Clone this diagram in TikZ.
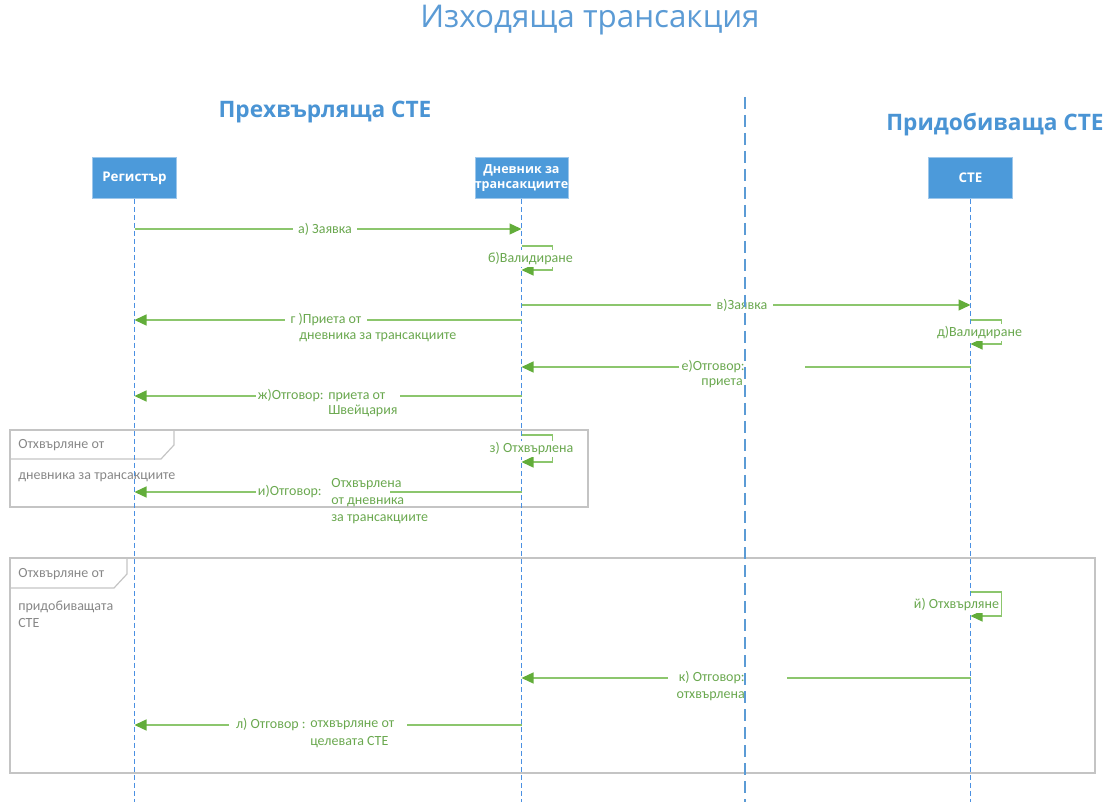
\documentclass[tikz,border=0pt]{standalone}
\usepackage{fontspec}
\setmainfont{Carlito}
\newfontfamily\headfont{Open Sans}
\usetikzlibrary{arrows.meta,positioning}
\definecolor{titleblue}{HTML}{5B9BD5}
\definecolor{headblue}{HTML}{4A94D4}
\definecolor{boxblue}{HTML}{4C9ADA}
\definecolor{lifeblue}{HTML}{4A90E2}
\definecolor{msggreen}{HTML}{8CC66D}
\definecolor{tipgreen}{HTML}{62AD3A}
\definecolor{lblgreen}{HTML}{6AA84F}
\definecolor{framegray}{HTML}{C4C4C4}
\definecolor{fgray}{HTML}{878787}
\tikzset{
  titletxt/.style={text=titleblue,font=\headfont\fontsize{23.5}{28}\selectfont},
  headtxt/.style={text=headblue,font=\headfont\bfseries\fontsize{17}{20}\selectfont},
  lifebox/.style={fill=boxblue,draw=boxblue!55!white,text=white,font=\headfont\bfseries\fontsize{10}{11.5}\selectfont,
    minimum width=63pt,minimum height=31pt,inner sep=0pt,align=center},
  lifeline/.style={draw=lifeblue,line width=1.1pt,dash pattern=on 3.75pt off 2.25pt},
  divider/.style={draw=titleblue,line width=1.9pt,dash pattern=on 9pt off 4.5pt},
  msgline/.style={draw=msggreen,line width=1pt},
  msg/.style={msgline,-{Triangle[length=9pt,width=8.25pt,color=tipgreen]}},
  lbl/.style={text=lblgreen,font=\fontsize{10.5}{12.5}\selectfont,inner sep=1.5pt},
  onlbl/.style={lbl,fill=white},
  fragbox/.style={draw=framegray,line width=0.9pt},
  fragtxt/.style={text=fgray,font=\fontsize{10.5}{12.75}\selectfont,anchor=west,inner sep=0pt,align=left},
}
\begin{document}
\begin{tikzpicture}[x=0.75pt,y=-0.75pt]
\useasboundingbox (0,0) rectangle (1108,802);
% titles
\node[titletxt] (title) at (590,20) {Изходяща трансакция};
\node[headtxt] (hsend) at (325,112) {Прехвърляща СТЕ};
\node[headtxt] (hrecv) at (995,125) {Придобиваща СТЕ};
% fragments
\draw[fragbox] (10,430) rectangle (588,507);
\draw[fragbox] (10,459) -- (161,459) -- (174,445) -- (174,430);
\node[fragtxt] (f1head) at (18,445) {Отхвърляне от};
\node[fragtxt] (f1cond) at (18,477) {дневника за трансакциите};
\draw[fragbox] (10,558) rectangle (1095,773);
\draw[fragbox] (10,588) -- (114,588) -- (127,574) -- (127,558);
\node[fragtxt] (f2head) at (18,574) {Отхвърляне от};
\node[fragtxt] (f2cond) at (18,614.5) {придобиващата\\СТЕ};
% lifelines
\node[lifebox] (reg) at (134.5,178) {Регистър};
\node[lifebox,font=\headfont\bfseries\fontsize{9.4}{11.5}\selectfont] (trn) at (521.5,178) {Дневник за\\трансакциите};
\node[lifebox] (ste) at (970.5,178) {СТЕ};
\coordinate (bot) at (0,802);
\foreach \lf in {reg,trn,ste}{\draw[lifeline] (\lf.south) -- (\lf.south |- bot);}
% a) request
\draw[msg] (reg |- 0,229) -- (trn |- 0,229);
\node[onlbl,inner xsep=4pt] (la) at (325,229) {а) Заявка};
% c) request to the acquiring side
\draw[msg] (trn |- 0,305) -- (ste |- 0,305);
\node[onlbl,inner xsep=4pt] (lc) at (742,305) {в)Заявка};
% g) accepted
\draw[msg] (trn |- 0,320) -- (reg |- 0,320);
\node[onlbl,anchor=west,inner xsep=4pt] (lg) at (285,320) {г )Приета от};
\node[lbl,anchor=west] (lg2) at (297,337) {дневника за трансакциите};
% e) answer
\coordinate (eR) at (805,367);
\node[lbl,anchor=east] (le) at (747,367) {е)Отговор:};
\node[lbl,anchor=east,inner ysep=0pt] (le2) at (745,383) {приета};
\draw[msgline] (ste |- eR) -- (eR);
\draw[msg] (le.west) -- (trn |- le.west);
% zh) answer
\draw[msg] (trn |- 0,396) -- (reg |- 0,396);
\node[onlbl,anchor=east] (lzh) at (326,396) {ж)Отговор:};
\node[onlbl,anchor=north west,align=left,font=\fontsize{10.5}{11.5}\selectfont] (lzh2) at ([yshift=-2.3pt]lzh.north east) {приета от\\Швейцария};
% self messages
\foreach \nm/\lf/\ya/\yb/\dx/\lb in {b/trn/246/270/9/{б)Валидиране},d/ste/320/344/9/{д)Валидиране},
  z/trn/435/462/10/{з) Отхвърлена},j/ste/592/616/-14/{й) Отхвърляне}}{
  \pgfmathsetmacro{\ym}{(\ya+\yb)/2+0.5}
  \draw[msg] (\lf |- 0,\ya) -- ++(31,0) |- (\lf |- 0,\yb);
  \node[onlbl,xshift=\dx*0.75pt] (l\nm) at (\lf |- 0,\ym) {\lb};
}
% i) answer
\coordinate (iR) at (390,492);
\node[lbl,anchor=east] (li) at (324,492) {и)Отговор:};
\node[lbl,anchor=west,align=left] (li2) at (329,501) {Отхвърлена\\от дневника\\за трансакциите};
\draw[msg] (li.west) -- (reg |- li.west);
\draw[msgline] (trn |- iR) -- (iR);
% k) answer
\coordinate (kL) at (668,678);
\coordinate (kR) at (787,678);
\node[lbl,anchor=east] (lk) at (747,678) {к) Отговор:};
\node[lbl,anchor=east] (lk2) at (747,696) {отхвърлена};
\draw[msgline] (ste |- kR) -- (kR);
\draw[msg] (kL) -- (trn |- kL);
% l) answer
\coordinate (lL) at (229,725);
\coordinate (lR) at (407,725);
\node[lbl,anchor=east] (ll) at (308,725) {л) Отговор :};
\node[lbl,anchor=north west,align=left,font=\fontsize{10.5}{13}\selectfont] (ll2) at ([yshift=-1.8pt]ll.north east) {отхвърляне от\\целевата СТЕ};
\draw[msg] (lL) -- (reg |- lL);
\draw[msgline] (trn |- lR) -- (lR);
% divider
\coordinate (divtop) at (745,97);
\draw[divider] (divtop) -- (divtop |- bot);
\end{tikzpicture}
\end{document}
